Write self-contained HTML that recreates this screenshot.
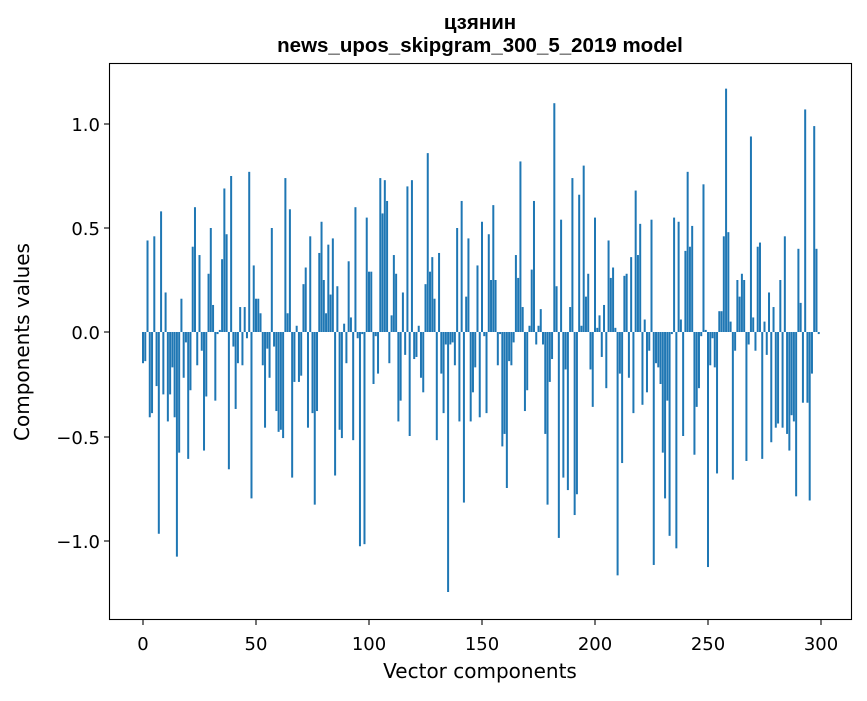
<!DOCTYPE html>
<html><head><meta charset="utf-8"><style>
body{margin:0;background:#fff;}
svg text{font-family:"DejaVu Sans","Liberation Sans",sans-serif;fill:#000;}
svg text.t{font-family:"Liberation Sans","DejaVu Sans",sans-serif;}
</style></head><body>
<svg id="s" width="867" height="696" xmlns="http://www.w3.org/2000/svg">
<rect width="867" height="696" fill="#fff"/>
<g id="bars" fill="#1f77b4"></g>
<rect x="109.5" y="63.5" width="742" height="556" fill="none" stroke="#000" stroke-width="1.1"/>
<g stroke="#000" stroke-width="1.1">
<line x1="143" y1="620" x2="143" y2="625"/><line x1="256" y1="620" x2="256" y2="625"/><line x1="369" y1="620" x2="369" y2="625"/><line x1="482" y1="620" x2="482" y2="625"/><line x1="595" y1="620" x2="595" y2="625"/><line x1="708" y1="620" x2="708" y2="625"/><line x1="821" y1="620" x2="821" y2="625"/>
<line x1="104" y1="124" x2="109" y2="124"/><line x1="104" y1="228" x2="109" y2="228"/><line x1="104" y1="332" x2="109" y2="332"/><line x1="104" y1="437" x2="109" y2="437"/><line x1="104" y1="541" x2="109" y2="541"/>
</g>
<g font-size="18" text-anchor="middle">
<text x="143" y="650">0</text><text x="256" y="650">50</text><text x="369" y="650">100</text><text x="482" y="650">150</text><text x="595" y="650">200</text><text x="708" y="650">250</text><text x="821" y="650">300</text>
</g>
<g font-size="18" text-anchor="end">
<text x="100" y="131">1.0</text><text x="100" y="235">0.5</text><text x="100" y="339">0.0</text><text x="100" y="444">−0.5</text><text x="100" y="548">−1.0</text>
</g>
<text x="480" y="678" font-size="20" text-anchor="middle">Vector components</text>
<text transform="translate(29,342) rotate(-90)" font-size="20" text-anchor="middle">Components values</text>
<text class="t" x="480" y="29" font-size="20.5" font-weight="bold" text-anchor="middle">цзянин</text>
<text class="t" x="480" y="52" font-size="20.5" font-weight="bold" text-anchor="middle">news_upos_skipgram_300_5_2019 model</text>
</svg>
<script>
var v=[-0.15,-0.14,0.44,-0.41,-0.39,0.46,-0.26,-0.97,0.58,-0.30,0.19,-0.43,-0.30,-0.17,-0.41,-1.08,-0.58,0.16,-0.22,-0.05,-0.61,-0.28,0.41,0.60,-0.16,0.37,-0.09,-0.57,-0.31,0.28,0.50,0.13,-0.33,-0.01,0.01,0.35,0.69,0.47,-0.66,0.75,-0.07,-0.37,-0.15,0.12,-0.16,0.12,-0.03,0.77,-0.80,0.32,
0.16,0.16,0.09,-0.16,-0.46,-0.08,-0.22,0.50,-0.07,-0.38,-0.48,-0.47,-0.51,0.74,0.09,0.59,-0.70,-0.24,0.03,-0.24,-0.21,0.23,0.31,-0.46,0.46,-0.39,-0.83,-0.38,0.38,0.53,0.25,0.09,0.42,0.18,0.45,-0.69,0.22,-0.47,-0.51,0.04,-0.15,0.34,0.07,-0.52,0.60,-0.03,-1.03,-0.01,-1.02,0.55,
0.29,0.29,-0.25,-0.02,-0.20,0.74,0.57,0.73,0.63,-0.15,0.08,0.37,0.28,-0.43,-0.33,0.19,-0.11,0.70,-0.50,0.73,-0.13,-0.12,0.03,-0.22,-0.29,0.23,0.86,0.29,0.36,0.16,-0.52,0.38,-0.20,-0.39,-0.06,-1.25,-0.06,-0.05,-0.16,0.50,-0.43,0.63,-0.82,0.17,0.45,-0.43,-0.29,-0.17,0.32,-0.41,
0.53,-0.02,-0.39,0.47,0.25,0.61,0.25,-0.16,-0.01,-0.55,-0.49,-0.75,-0.14,-0.16,-0.05,0.37,0.26,0.82,0.12,-0.38,-0.28,0.03,0.30,0.63,-0.06,0.03,0.11,-0.06,-0.49,-0.83,-0.24,-0.13,1.10,0.22,-0.99,0.54,-0.70,-0.18,-0.76,0.12,0.74,-0.88,-0.78,0.66,0.03,0.80,0.17,0.28,-0.18,-0.36,
0.55,0.02,0.08,-0.12,0.13,-0.27,0.44,0.26,0.31,0.02,-1.17,-0.20,-0.63,0.27,0.28,-0.22,0.36,-0.39,0.68,0.37,0.52,-0.35,0.06,-0.29,-0.09,0.54,-1.12,-0.15,-0.17,-0.25,-0.58,-0.80,-0.33,-0.98,-0.01,0.55,-1.04,0.53,0.06,-0.50,0.39,0.77,0.41,0.51,-0.59,-0.36,-0.27,-0.02,0.71,0.01,
-1.13,-0.16,-0.03,-0.17,-0.68,0.10,0.10,0.46,1.17,0.48,0.05,-0.71,-0.09,0.25,0.17,0.28,0.25,-0.62,-0.06,0.94,0.07,-0.09,0.41,0.43,-0.61,0.05,-0.11,0.19,-0.53,0.12,-0.46,-0.44,0.25,-0.46,0.46,-0.49,-0.57,-0.40,-0.43,-0.79,0.40,0.14,-0.34,1.07,-0.34,-0.81,-0.20,0.99,0.40,-0.01];
var g=document.getElementById('bars'),h='';
for(var i=0;i<v.length;i++){var x=143+2.26*i-1.0,y0=332,y1=332-208*v[i];
h+='<rect x="'+x.toFixed(2)+'" y="'+Math.min(y0,y1).toFixed(2)+'" width="2.0" height="'+Math.abs(y1-y0).toFixed(2)+'"/>';}
g.innerHTML=h;
</script>
</body></html>
